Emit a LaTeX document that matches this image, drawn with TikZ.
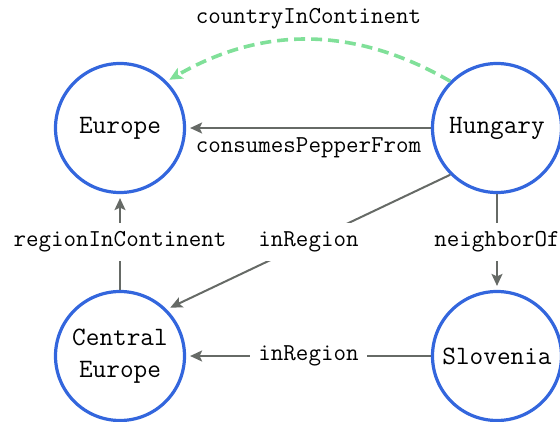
\documentclass[tikz,border=0pt]{standalone}
\usetikzlibrary{arrows.meta}
\definecolor{nodeblue}{RGB}{51,102,221}
\definecolor{edgegrey}{RGB}{102,106,102}
\definecolor{dashgreen}{RGB}{128,224,153}
\begin{document}
\begin{tikzpicture}[x=1pt,y=-1pt,
  ent/.style={circle, draw=nodeblue, line width=3.2pt, minimum size=129pt, inner sep=0pt,
    font=\fontsize{26.5}{32}\selectfont\ttfamily, align=center},
  rel/.style={draw=edgegrey, line width=2pt, shorten >=4pt, -{Stealth[length=12pt,width=11pt,inset=2.5pt]}},
  lab/.style={font=\fontsize{24.3}{29}\selectfont\ttfamily, inner xsep=8pt, inner ysep=9pt, text=black},
  onlab/.style={lab, fill=white},
  inf/.style={draw=dashgreen, line width=3.6pt, dash pattern=on 11pt off 6pt, shorten >=3pt,
    -{Stealth[length=13pt,width=12pt,inset=3pt]}}
]
\useasboundingbox (0,0) rectangle (560,421);
\node[ent] (eu) at (120,128) {Europe};
\node[ent] (hu) at (497,128) {Hungary};
\node[ent] (ce) at (120,356) {Central\\Europe};
\node[ent] (sl) at (497,356) {Slovenia};
\draw[rel] (hu) -- node[lab, below] {consumesPepperFrom} (eu);
\draw[inf] (hu.north west) to[bend right=30] node[lab, above] {countryInContinent} (eu.north east);
\draw[rel] (ce) -- node[onlab] {regionInContinent} (eu);
\draw[rel] (hu) -- node[onlab] {neighborOf} (sl);
\draw[rel] (hu.south west) -- node[onlab] {inRegion} (ce.north east);
\draw[rel] (sl) -- node[onlab] {inRegion} (ce);
\end{tikzpicture}
\end{document}
